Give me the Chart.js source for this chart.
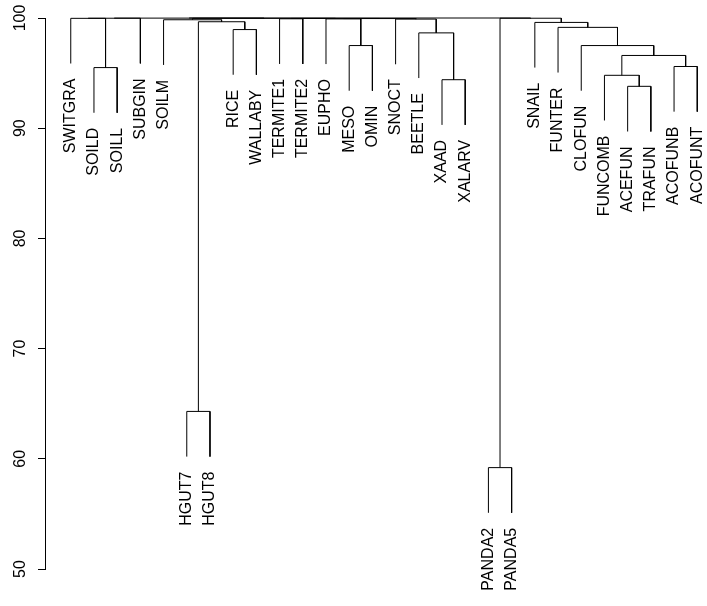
<!DOCTYPE html>
<html>
<head>
<meta charset="utf-8">
<script src="https://cdn.jsdelivr.net/npm/chart.js@4.4.1/dist/chart.umd.min.js"></script>
<style>
  html, body { margin: 0; padding: 0; background: #fff; }
</style>
</head>
<body>
<canvas id="dendro" width="707" height="606"></canvas>
<script>
// Leaves, left to right
const leafLabels = ['SWITGRA', 'SOILD', 'SOILL', 'SUBGIN', 'SOILM', 'HGUT7', 'HGUT8', 'RICE', 'WALLABY',
  'TERMITE1', 'TERMITE2', 'EUPHO', 'MESO', 'OMIN', 'SNOCT', 'BEETLE', 'XAAD', 'XALARV', 'PANDA2', 'PANDA5',
  'SNAIL', 'FUNTER', 'CLOFUN', 'FUNCOMB', 'ACEFUN', 'TRAFUN', 'ACOFUNB', 'ACOFUNT'];

// Merge table, hclust style: negative = leaf number, positive = earlier merge row
const mergeLeft   = [-2, -6, -8, 2, -5, -13, -17, -16, -19, -25, -24, -27, 11, -23, -22, -21, 9,
  -10, -12, -15, 19, 18, 5, -1, 24, 25, 26];
const mergeRight  = [-3, -7, -9, 3, 4, -14, -18, 7, -20, -26, 10, -28, 12, 13, 14, 15, 16,
  -11, 6, 8, 20, 21, 22, 1, -4, 23, 17];
const mergeHeight = [95.5, 64.3, 98.95, 99.66, 99.84, 97.5, 94.4, 98.65, 59.2, 93.8, 94.8, 95.6, 96.6, 97.5, 99.15, 99.6, 99.98,
  99.93, 99.92, 99.9, 99.95, 99.96, 99.97, 99.97, 99.98, 99.99, 100];

const yTicks = [50, 60, 70, 80, 90, 100];
const hang = 4.1;

// x of each merge = midpoint of its two children
const nodeX = [];
function childX(c) { return c < 0 ? -c : nodeX[c - 1]; }
mergeLeft.forEach((l, i) => nodeX.push((childX(l) + childX(mergeRight[i])) / 2));

const leafEnd = {};
function childY(c, h) {
  if (c < 0) { leafEnd[-c] = h - hang; return h - hang; }
  return mergeHeight[c - 1];
}

// one little U shape per merge
const datasets = mergeLeft.map((l, i) => {
  const r = mergeRight[i], h = mergeHeight[i];
  return {
    data: [
      { x: childX(l), y: childY(l, h) },
      { x: childX(l), y: h },
      { x: childX(r), y: h },
      { x: childX(r), y: childY(r, h) }
    ],
    showLine: true,
    borderColor: '#000',
    borderWidth: 1,
    pointRadius: 0,
    fill: false,
    tension: 0,
    clip: false
  };
});

const FONT = '16px "Liberation Sans", Arial, Helvetica, sans-serif';

const textPlugin = {
  id: 'dendroText',
  afterDraw(chart) {
    const ctx = chart.ctx, xs = chart.scales.x, ys = chart.scales.y;
    ctx.save();
    ctx.fillStyle = '#000';
    ctx.font = FONT;
    ctx.textBaseline = 'middle';
    // leaf labels hang under the leaf lines
    leafLabels.forEach((name, i) => {
      const x = xs.getPixelForValue(i + 1);
      const y = ys.getPixelForValue(leafEnd[i + 1]);
      ctx.save();
      ctx.translate(x, y + 15);
      ctx.rotate(-Math.PI / 2);
      ctx.textAlign = 'right';
      ctx.fillText(name, 0, 0);
      ctx.restore();
    });
    // y tick labels, vertical like R
    yTicks.forEach(v => {
      ctx.save();
      ctx.translate(21, ys.getPixelForValue(v));
      ctx.rotate(-Math.PI / 2);
      ctx.textAlign = 'center';
      ctx.fillText(String(v), 0, 0);
      ctx.restore();
    });
    ctx.restore();
  }
};

new Chart(document.getElementById('dendro'), {
  type: 'scatter',
  data: { datasets: datasets },
  options: {
    responsive: false,
    animation: false,
    layout: { padding: { top: 18, bottom: 37, left: 0, right: 0 } },
    plugins: { legend: { display: false }, tooltip: { enabled: false } },
    scales: {
      x: {
        type: 'linear',
        min: -0.11,
        max: 28.42,
        display: false
      },
      y: {
        type: 'linear',
        min: 50,
        max: 100,
        afterBuildTicks: s => { s.ticks = yTicks.map(v => ({ value: v })); },
        afterFit: s => { s.width = 45; },
        ticks: { display: false },
        grid: { drawOnChartArea: false, drawTicks: true, tickLength: 7, color: '#000', lineWidth: 1 },
        border: { display: true, color: '#000', width: 1 }
      }
    }
  },
  plugins: [textPlugin]
});
</script>
</body>
</html>
